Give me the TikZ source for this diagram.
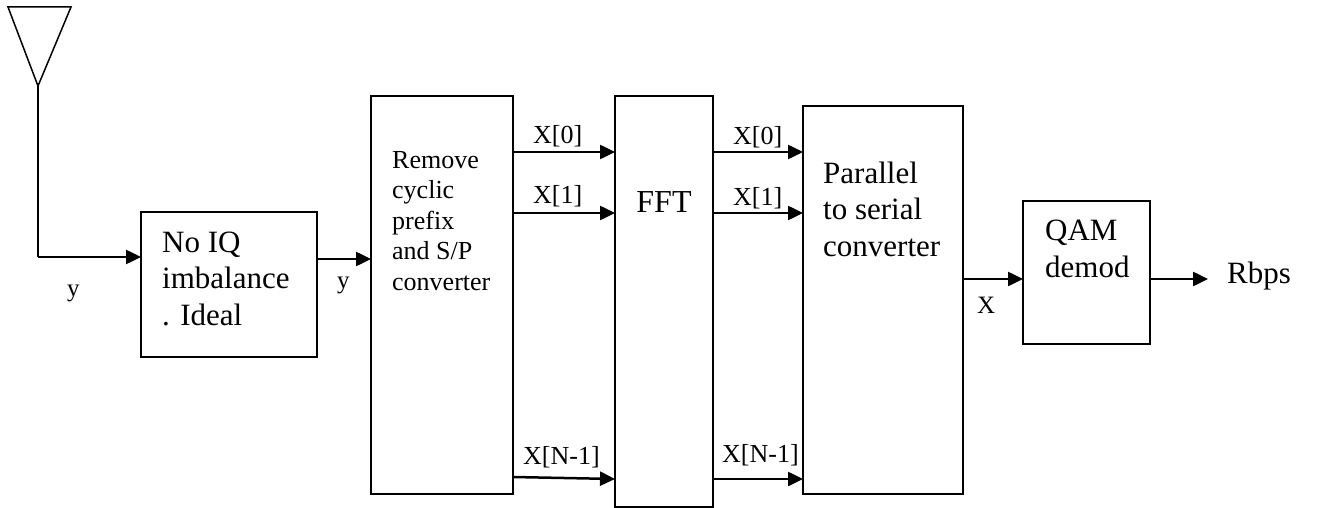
\documentclass[tikz,border=0pt]{standalone}
\usepackage{fontspec}
\setmainfont{Liberation Serif}
\usetikzlibrary{arrows.meta}
\tikzset{
  blk/.style={draw, line width=2.5pt, inner sep=0pt, outer sep=0pt, anchor=north west},
  arr/.style={line width=2.5pt, -{Triangle[length=15pt,width=14pt]}},
  wire/.style={line width=2.5pt},
  txt/.style={anchor=base west, inner sep=0pt, font=\fontsize{31}{36}\selectfont},
  stxt/.style={anchor=base west, inner sep=0pt, font=\fontsize{26}{31}\selectfont},
  lbl/.style={anchor=base west, inner sep=0pt, font=\fontsize{25}{30}\selectfont}
}
\begin{document}
\begin{tikzpicture}[x=1pt,y=-1pt]
\useasboundingbox (0,0) rectangle (1320,508);
% antenna
\coordinate (tip) at (38,86);
\draw[line width=1.5pt, line join=miter] (8,7) -- (71,7) -- (tip) -- cycle;
% boxes
\node[blk, minimum width=176pt, minimum height=145pt] (noiq) at (141,212) {};
\node[blk, minimum width=142pt, minimum height=398pt] (rem) at (371,96) {};
\node[blk, minimum width=98pt, minimum height=411pt] (fft) at (615,96) {};
\node[blk, minimum width=160pt, minimum height=388pt] (ps) at (803,106) {};
\node[blk, minimum width=127pt, minimum height=143pt] (qam) at (1023,201) {};
\coordinate (out) at (1208,279);
% texts
\node[txt] (t1a) at (162,252) {No IQ};
\node[txt] (t1b) at (162,288) {imbalance};
\node[txt] (t1c) at (162,325) {. Ideal};
\node[stxt] (t2a) at (392,168) {Remove};
\node[stxt] (t2b) at (392,198) {cyclic};
\node[stxt] (t2c) at (392,229) {prefix};
\node[stxt] (t2d) at (392,259) {and S/P};
\node[stxt] (t2e) at (392,290) {converter};
\node[anchor=base, inner sep=0pt, font=\fontsize{32}{36}\selectfont] (t3) at (664,212) {FFT};
\node[txt] (t4a) at (823,183) {Parallel};
\node[txt] (t4b) at (823,219) {to serial};
\node[txt] (t4c) at (823,256) {converter};
\node[txt] (t5a) at (1045,240) {QAM};
\node[txt] (t5b) at (1045,277) {demod};
\node[txt] (rbps) at (1227,283) {Rbps};
% connectors
\draw[wire] (tip) -- (38,257) coordinate (corner);
\draw[arr] (corner) -- (noiq.west |- corner);
\node[lbl] (ly1) at (67,296) {y};
\draw[arr] (noiq.east |- 0,259) -- (rem.west |- 0,259);
\node[lbl] (ly2) at (337,288) {y};
\draw[arr] (rem.east |- 0,152) -- (fft.west |- 0,152);
\draw[arr] (rem.east |- 0,213) -- (fft.west |- 0,213);
\draw[arr] (rem.east |- 0,477) -- (fft.west |- 0,479);
\node[stxt] (la0) at (533,144) {X[0]};
\node[stxt] (la1) at (533,203) {X[1]};
\node[stxt] (la2) at (523,464) {X[N-1]};
\draw[arr] (fft.east |- 0,152) -- (ps.west |- 0,152);
\draw[arr] (fft.east |- 0,213) -- (ps.west |- 0,213);
\draw[arr] (fft.east |- 0,479) -- (ps.west |- 0,479);
\node[stxt] (lb0) at (733,145) {X[0]};
\node[stxt] (lb1) at (733,205) {X[1]};
\node[stxt] (lb2) at (722,462) {X[N-1]};
\draw[arr] (ps.east |- 0,279) -- (qam.west |- 0,279);
\node[lbl] (lx) at (977,313) {X};
\draw[arr] (qam.east |- 0,279) -- (out);
\end{tikzpicture}
\end{document}
